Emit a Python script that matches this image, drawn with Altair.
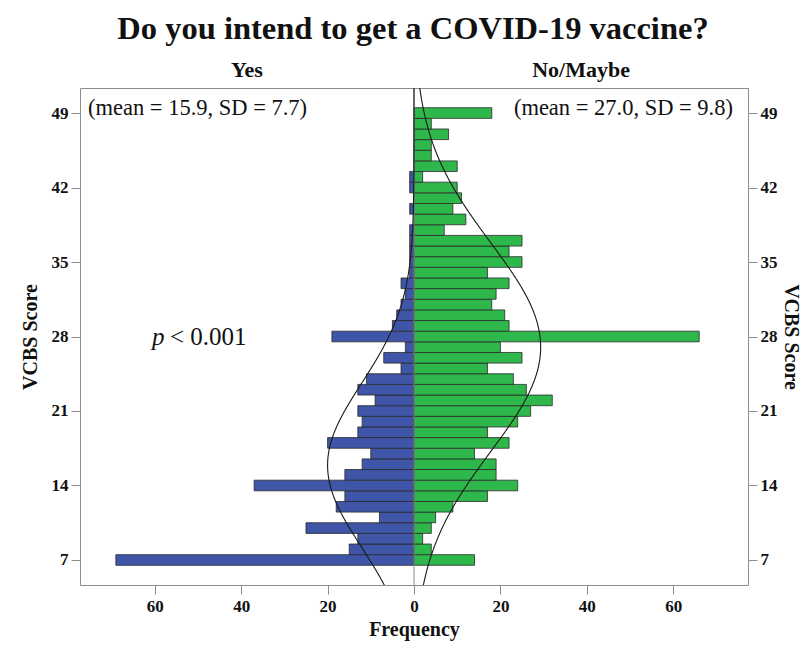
import math
import altair as alt
import pandas as pd

# ---- data ----
scores = list(range(7, 50))
yes_counts = [69, 15, 13, 25, 8, 18, 16, 37, 16, 12,
              10, 20, 13, 12, 13, 9, 13, 11, 3, 7,
              2, 19, 5, 4, 3, 2, 3, 1, 1, 1,
              1, 1, 0, 1, 0, 1, 1, 0, 0, 0,
              0, 0, 0]
no_counts = [14, 4, 2, 4, 5, 9, 17, 24, 19, 19,
             14, 22, 17, 24, 27, 32, 26, 23, 17, 25,
             20, 66, 22, 21, 18, 19, 22, 17, 25, 22,
             25, 7, 12, 9, 11, 10, 2, 10, 4, 4,
             8, 4, 18]
yes_mean, yes_sd = 15.9, 7.7
no_mean, no_sd = 27.0, 9.8
y_ticks = [7, 14, 21, 28, 35, 42, 49]
x_ticks = [-60, -40, -20, 0, 20, 40, 60]

FONT = "Liberation Serif"
BLUE = "#3F56A8"
GREEN = "#2EB84C"
EDGE = "#2a2a2a"
FRAME = "#8c8c8c"
W, H = 668, 497
Y_DOM = [4.65, 51.35]
X_DOM = [-77.3, 77.3]

yes_df = pd.DataFrame({"score": scores, "count": yes_counts, "side": "Yes"})
no_df = pd.DataFrame({"score": scores, "count": no_counts, "side": "No/Maybe"})

xscale = alt.Scale(domain=X_DOM, nice=False, zero=False)
yscale = alt.Scale(domain=Y_DOM, nice=False, zero=False)


def xaxis():
    return alt.Axis(values=x_ticks, labelExpr="format(abs(datum.value), 'd')",
                    title="Frequency", grid=False)


def yaxis(orient):
    return alt.Axis(orient=orient, values=y_ticks, title="VCBS Score", grid=False,
                    titleAngle=-90 if orient == "left" else 90)


yes_bars = alt.Chart(yes_df).transform_filter("datum.count > 0").transform_calculate(
    xv="-datum.count", x0="0", y0="datum.score - 0.5", y1="datum.score + 0.5"
).mark_rect(color=BLUE, stroke=EDGE, strokeWidth=0.8).encode(
    x=alt.X("xv:Q", scale=xscale, axis=xaxis()),
    x2="x0:Q",
    y=alt.Y("y0:Q", scale=yscale, axis=yaxis("left")),
    y2="y1:Q",
)

no_bars = alt.Chart(no_df).transform_filter("datum.count > 0").transform_calculate(
    xv="datum.count", x0="0", y0="datum.score - 0.5", y1="datum.score + 0.5"
).mark_rect(color=GREEN, stroke=EDGE, strokeWidth=0.8).encode(
    x=alt.X("xv:Q", scale=xscale, axis=xaxis()),
    x2="x0:Q",
    y=alt.Y("y0:Q", scale=yscale, axis=yaxis("right")),
    y2="y1:Q",
)

zero_rule = alt.Chart(pd.DataFrame({"z": [0]})).mark_rule(color=FRAME, strokeWidth=1).encode(
    x=alt.X("z:Q", scale=xscale, axis=xaxis())
)


def curve(n, mean, sd, sign):
    expr = (f"{sign} * {n} * exp(-0.5 * pow((datum.s - {mean}) / {sd}, 2)) "
            f"/ ({sd} * sqrt(2 * PI))")
    return alt.Chart(alt.sequence(4.6, 51.45, 0.1, as_="s")).transform_calculate(
        cx=expr
    ).mark_line(color="#1a1a1a", strokeWidth=1.1, clip=True).encode(
        x=alt.X("cx:Q", scale=xscale, axis=xaxis()),
        y=alt.Y("s:Q", scale=yscale, axis=None),
        order="s:Q",
    )


yes_curve = curve(sum(yes_counts), yes_mean, yes_sd, -1)
no_curve = curve(sum(no_counts), no_mean, no_sd, 1)


def label(text, x, y, size, align="center", weight="normal", style="normal"):
    return alt.Chart(pd.DataFrame({"t": [text]})).mark_text(
        font=FONT, fontSize=size, fontWeight=weight, fontStyle=style,
        align=align, baseline="alphabetic", color="#111111"
    ).encode(text="t:N", x=alt.value(x), y=alt.value(y))


texts = [
    label("Do you intend to get a COVID-19 vaccine?", 333, -49, 32.5, weight="bold"),
    label("Yes", 167, -11, 22, weight="bold"),
    label("No/Maybe", 501, -11, 22, weight="bold"),
    label(f"(mean = {yes_mean:.1f}, SD = {yes_sd:.1f})", 8, 27, 22.5, align="left"),
    label(f"(mean = {no_mean:.1f}, SD = {no_sd:.1f})", 653, 27, 22.5, align="right"),
    label("p", 72, 257, 25, align="left", style="italic"),
    label("< 0.001", 90, 257, 25, align="left"),
]

chart = alt.layer(yes_bars, no_bars, zero_rule, yes_curve, no_curve, *texts).resolve_axis(
    y="independent"
).properties(
    width=W, height=H,
    autosize=alt.AutoSizeParams(type="none"),
    padding={"left": 72, "top": 80, "right": 55, "bottom": 58},
).configure_view(
    stroke=FRAME, strokeWidth=1
).configure_axis(
    labelFont=FONT, titleFont=FONT, labelFontWeight="bold", titleFontWeight="bold",
    labelFontSize=17, titleFontSize=20, labelColor="#111111", titleColor="#111111",
    domain=False, tickColor=FRAME, tickSize=9, tickWidth=1,
).configure_axisX(
    labelPadding=4, titlePadding=5,
).configure_axisLeft(
    labelPadding=3, titlePadding=11,
).configure_axisRight(
    labelPadding=3, titlePadding=3,
)

chart.save("out.html", embed_options={"renderer": "svg", "actions": False})
